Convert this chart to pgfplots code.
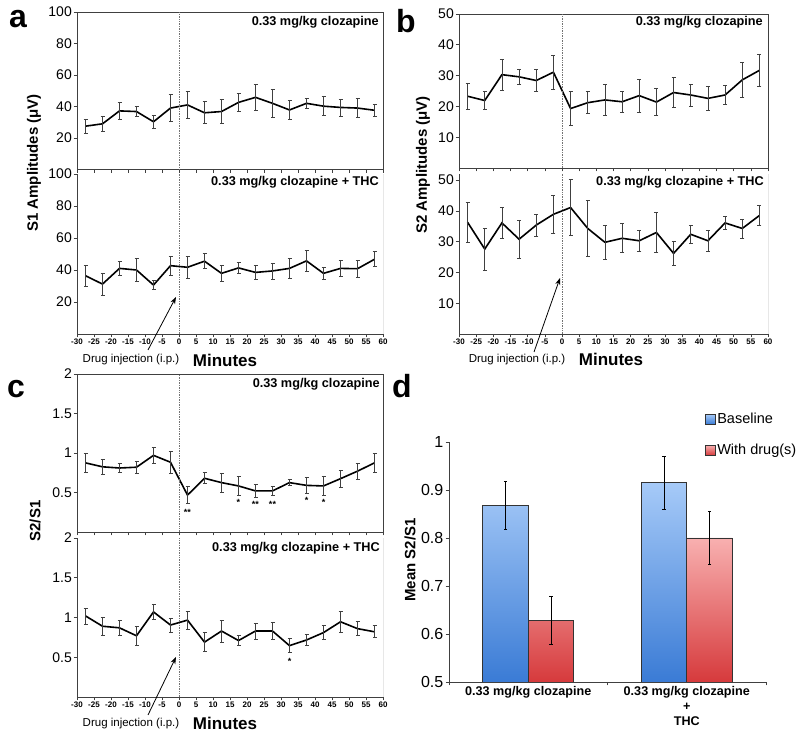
\documentclass[border=0pt]{standalone}
\usepackage{pgfplots}
\pgfplotsset{compat=1.18}
\usepackage{pgfplotstable}
\usepackage{fontspec}
\setmainfont{Liberation Sans}
\usetikzlibrary{arrows.meta}
\newcommand{\fs}[1]{\fontsize{#1}{#1}\selectfont}
\definecolor{blueT}{HTML}{A6CAF8}
\definecolor{blueB}{HTML}{3A7BD5}
\definecolor{redT}{HTML}{F8B0B0}
\definecolor{redB}{HTML}{D63A3C}
\tikzset{vline/.style={black!55, line width=0.7pt, densely dotted}}

\pgfplotstableread{
x y e
-27.5 27.5 4.3
-22.5 29 5
-17.5 37.2 5.4
-12.5 36.8 3
-7.5 30.3 4.3
-2.5 39 8.5
2.5 41 8.3
7.5 36 7
12.5 36.8 7.5
17.5 42.6 6
22.5 45.8 8
27.5 42 8.6
32.5 37.8 6
37.5 42 3.4
42.5 40.2 6
47.5 39.4 5.4
52.5 39 6
57.5 37.6 4
}\aTop
\pgfplotstableread{
x y e
-27.5 36.4 6.5
-22.5 31.2 7
-17.5 41 4.5
-12.5 40 7
-7.5 30.6 2.8
-2.5 42.7 5.8
2.5 41.7 7
7.5 45.5 4.6
12.5 37.9 4.7
17.5 41.3 3.4
22.5 38.5 4.4
27.5 39.4 5
32.5 41 6.3
37.5 45.7 6.3
42.5 37.9 3.6
47.5 41 5
52.5 40.8 5.3
57.5 46.7 4.7
}\aBot
\pgfplotstableread{
x y e
-27.5 23.3 4.3
-22.5 21.9 3
-17.5 30.3 5
-12.5 29.6 2.5
-7.5 28.4 3.6
-2.5 31.1 5.6
2.5 19.3 5.5
7.5 21.2 3.6
12.5 22.1 4.9
17.5 21.5 3.3
22.5 23.5 5.3
27.5 21.4 4.3
32.5 24.5 4.8
37.5 23.7 3.6
42.5 22.6 3.9
47.5 23.7 3
52.5 28.6 5.8
57.5 31.7 5.2
}\bTop
\pgfplotstableread{
x y e
-27.5 36.3 6.6
-22.5 27.6 6.8
-17.5 36.1 5
-12.5 30.8 6.2
-7.5 35.4 3.6
-2.5 38.9 6.2
2.5 41.1 9
7.5 34.3 9.2
12.5 29.8 5.5
17.5 31.1 4.7
22.5 30.3 3.5
27.5 33 6.6
32.5 26.2 3.9
37.5 32.4 3
42.5 30.3 3.3
47.5 36.1 2
52.5 34.3 3.1
57.5 38.5 3.3
}\bBot
\pgfplotstableread{
x y e
-27.5 0.875 0.125
-22.5 0.825 0.09
-17.5 0.81 0.06
-12.5 0.82 0.08
-7.5 0.97 0.1
-2.5 0.883 0.135
2.5 0.467 0.11
7.5 0.68 0.07
12.5 0.625 0.12
17.5 0.583 0.12
22.5 0.52 0.08
27.5 0.52 0.06
32.5 0.625 0.04
37.5 0.59 0.1
42.5 0.583 0.12
47.5 0.675 0.11
52.5 0.77 0.1
57.5 0.875 0.125
}\cTop
\pgfplotstableread{
x y e
-27.5 1.02 0.1
-22.5 0.89 0.11
-17.5 0.87 0.09
-12.5 0.77 0.12
-7.5 1.07 0.09
-2.5 0.905 0.09
2.5 0.967 0.11
7.5 0.69 0.12
12.5 0.83 0.14
17.5 0.71 0.06
22.5 0.83 0.1
27.5 0.83 0.11
32.5 0.646 0.09
37.5 0.717 0.07
42.5 0.81 0.09
47.5 0.946 0.13
52.5 0.86 0.09
57.5 0.82 0.075
}\cBot
\pgfplotstableread{
x y s
2.5 0.215 **
17.5 0.33 *
22.5 0.31 **
27.5 0.31 **
37.5 0.36 *
42.5 0.33 *
}\cTopStars
\pgfplotstableread{
x y s
32.5 0.415 *
}\cBotStars

\pgfplotsset{
  ts/.style={
    scale only axis, width=306pt,
    xmin=-30, xmax=60,
    axis line style={black!75, line width=0.8pt},
    tick style={black!75, line width=0.6pt},
    tick align=outside, tick pos=left,
    major tick length=3.5pt,
    xtick={-30,-25,...,60},
    /pgf/number format/assume math mode=true,
    yticklabel style={font=\fs{14}, inner sep=1.5pt},
    xticklabel style={font=\fs{8}\bfseries, inner sep=1.5pt},
    xticklabels={-30,-25,-20,-15,-10,-5,0,5,10,15,20,25,30,35,40,45,50,55,60},
  },
  tsbot/.style={axis x line*=bottom, axis y line*=left},
  tsline/.style={black, line width=1.6pt, mark=none,
    error bars/.cd, y dir=both, y explicit,
    error bar style={black!75, line width=0.7pt},
    error mark options={rotate=90, mark size=2pt, black!75, line width=0.7pt}},
  stars/.style={draw=none, mark=none, nodes near coords, point meta=explicit symbolic,
    nodes near coords style={anchor=base, font=\fs{9}\bfseries, inner sep=0pt}},
}

\begin{document}
\begin{tikzpicture}[x=1pt,y=1pt]
\useasboundingbox (0,0) rectangle (800,741);

% ---------- panel a ----------
\begin{axis}[ts, at={(77pt,571.5pt)}, anchor=south west, height=157.5pt,
  ymin=0, ymax=100, ytick={20,40,...,100}, xticklabels={}]
\addplot[tsline] table[x=x,y=y,y error=e] {\aTop};
\draw[vline] (axis cs:0,0) -- (axis cs:0,100);
\end{axis}
\begin{axis}[ts, tsbot, at={(77pt,407pt)}, anchor=south west, height=160pt,
  ymin=0, ymax=100, ytick={20,40,...,100}]
\addplot[tsline] table[x=x,y=y,y error=e] {\aBot};
\draw[vline] (axis cs:0,0) -- (axis cs:0,100);
\draw[black!75, line width=0.8pt] (rel axis cs:1,0) -- (rel axis cs:1,1);
\end{axis}

% ---------- panel b ----------
\begin{axis}[ts, width=309pt, at={(459pt,573pt)}, anchor=south west, height=154pt,
  ymin=0, ymax=50, ytick={10,20,...,50}, xticklabels={}]
\addplot[tsline] table[x=x,y=y,y error=e] {\bTop};
\draw[vline] (axis cs:0,0) -- (axis cs:0,50);
\end{axis}
\begin{axis}[ts, tsbot, width=309pt, at={(459pt,407pt)}, anchor=south west, height=160pt,
  ymin=0, ymax=52, ytick={10,20,...,50}]
\addplot[tsline] table[x=x,y=y,y error=e] {\bBot};
\draw[vline] (axis cs:0,0) -- (axis cs:0,52);
\draw[black!75, line width=0.8pt] (rel axis cs:1,0) -- (rel axis cs:1,1);
\end{axis}

% ---------- panel c ----------
\begin{axis}[ts, at={(77pt,209pt)}, anchor=south west, height=158pt,
  ymin=0, ymax=2, ytick={0.5,1,1.5,2}, xticklabels={}]
\addplot[tsline] table[x=x,y=y,y error=e] {\cTop};
\addplot[stars] table[x=x,y=y,meta=s] {\cTopStars};
\draw[vline] (axis cs:0,0) -- (axis cs:0,2);
\end{axis}
\begin{axis}[ts, tsbot, at={(77pt,44pt)}, anchor=south west, height=159pt,
  ymin=0, ymax=2, ytick={0.5,1,1.5,2}]
\addplot[tsline] table[x=x,y=y,y error=e] {\cBot};
\addplot[stars] table[x=x,y=y,meta=s] {\cBotStars};
\draw[vline] (axis cs:0,0) -- (axis cs:0,2);
\draw[black!75, line width=0.8pt] (rel axis cs:1,0) -- (rel axis cs:1,1);
\end{axis}

% ---------- panel d ----------
\begin{axis}[scale only axis, width=317pt, height=240pt, at={(449pt,59pt)}, anchor=south west,
  xmin=-0.5, xmax=1.5, ymin=0.5, ymax=1,
  y coord trafo/.code={\pgfmathparse{#1-0.5}},
  y coord inv trafo/.code={\pgfmathparse{#1+0.5}},
  ybar=0pt, bar width=45.5pt,
  axis x line*=bottom, axis y line*=left,
  axis line style={black!75, line width=0.8pt},
  tick style={black!75, line width=0.6pt},
  tick align=outside, major tick length=3.5pt,
  ytick={0.5,0.6,0.7,0.8,0.9,1}, yticklabels={0.5,0.6,0.7,0.8,0.9,1},
  yticklabel style={font=\fs{16}, inner sep=2pt},
  xtick={-0.5,0.5,1.5}, xticklabels={},
  extra x ticks={0,1},
  extra x tick labels={0.33 mg/kg clozapine,{0.33 mg/kg clozapine\\+\\THC}},
  extra x tick style={major tick length=0pt,
    xticklabel style={align=center, font=\fontsize{12.6}{15}\selectfont\bfseries, inner sep=4.5pt}},
  legend style={draw=none, fill=none, at={(0.806,1.129)}, anchor=north west,
    font=\fs{14.5}, row sep=15pt, inner sep=0pt},
  legend cell align=left,
  legend image code/.code={\draw[#1] (0pt,-5pt) rectangle (10pt,5pt);},
]
\addplot[draw=black!80, line width=0.6pt, top color=blueT, bottom color=blueB,
  error bars/.cd, y dir=both, y explicit,
  error bar style={black, line width=0.7pt},
  error mark options={rotate=90, mark size=1.6pt, black, line width=0.7pt}]
  coordinates {(0,0.868) +- (0,0.051) (1,0.915) +- (0,0.055)};
\addplot[draw=black!80, line width=0.6pt, top color=redT, bottom color=redB,
  error bars/.cd, y dir=both, y explicit,
  error bar style={black, line width=0.7pt},
  error mark options={rotate=90, mark size=1.6pt, black, line width=0.7pt}]
  coordinates {(0,0.628) +- (0,0.05) (1,0.80) +- (0,0.055)};
\legend{Baseline, With drug(s)}
\end{axis}

% ---------- texts ----------
\node[anchor=east, font=\fs{12.7}\bfseries, inner sep=0] at (379,719) {0.33 mg/kg clozapine};
\node[anchor=east, font=\fs{12.7}\bfseries, inner sep=0] at (379,559) {0.33 mg/kg clozapine + THC};
\node[anchor=east, font=\fs{12.7}\bfseries, inner sep=0] at (763,719) {0.33 mg/kg clozapine};
\node[anchor=east, font=\fs{12.7}\bfseries, inner sep=0] at (764,559) {0.33 mg/kg clozapine + THC};
\node[anchor=east, font=\fs{12.7}\bfseries, inner sep=0] at (380,357) {0.33 mg/kg clozapine};
\node[anchor=east, font=\fs{12.7}\bfseries, inner sep=0] at (380,193) {0.33 mg/kg clozapine + THC};

\node[anchor=base west, font=\fs{32}\bfseries, inner sep=0] at (9,713) {a};
\node[anchor=base west, font=\fs{32}\bfseries, inner sep=0] at (396,708) {b};
\node[anchor=base west, font=\fs{32}\bfseries, inner sep=0] at (7,343) {c};
\node[anchor=base west, font=\fs{32}\bfseries, inner sep=0] at (392,343) {d};

\node[rotate=90, font=\fs{15}\bfseries, inner sep=0] at (34,578) {S1 Amplitudes (μV)};
\node[rotate=90, font=\fs{15}\bfseries, inner sep=0] at (423,576) {S2 Amplitudes (μV)};
\node[rotate=90, font=\fs{15}\bfseries, inner sep=0] at (35,220) {S2/S1};
\node[rotate=90, font=\fs{15}\bfseries, inner sep=0] at (410,181) {Mean S2/S1};

\node[font=\fs{11.5}, inner sep=0] at (131,381) {Drug injection (i.p.)};
\node[font=\fs{17}\bfseries, inner sep=0] at (225,381) {Minutes};
\node[font=\fs{11.5}, inner sep=0] at (517,381) {Drug injection (i.p.)};
\node[font=\fs{17}\bfseries, inner sep=0] at (611,382) {Minutes};
\node[font=\fs{11.5}, inner sep=0] at (131,17) {Drug injection (i.p.)};
\node[font=\fs{17}\bfseries, inner sep=0] at (225,18) {Minutes};

\draw[-{Stealth[length=7pt,width=5pt]}, line width=0.8pt] (148,391) -- (176,444);
\draw[-{Stealth[length=7pt,width=5pt]}, line width=0.8pt] (534,389) -- (560,463);
\draw[-{Stealth[length=7pt,width=5pt]}, line width=0.8pt] (148,26) -- (176,84);
\end{tikzpicture}
\end{document}
